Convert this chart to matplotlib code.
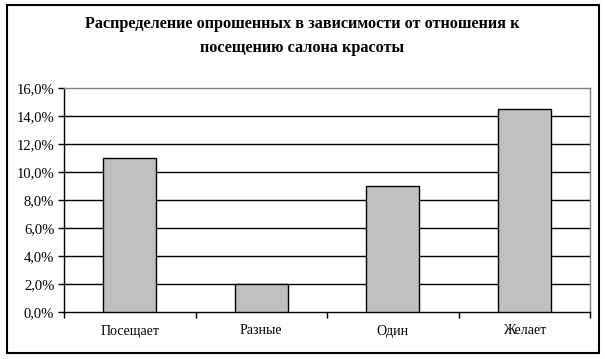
import matplotlib.pyplot as plt
import matplotlib.patches as patches
import numpy as np
from matplotlib.ticker import FuncFormatter

categories = ["Посещает", "Разные", "Один", "Желает"]
values = [11.0, 2.0, 9.0, 14.5]
yticks = [0, 2, 4, 6, 8, 10, 12, 14, 16]

plt.rcParams['font.family'] = ['Liberation Serif', 'DejaVu Serif']

W, H = 605, 359
fig = plt.figure(figsize=(W / 100, H / 100), dpi=100)

# outer frame (Excel style)
fig.patches.append(patches.Rectangle((7 / W, 1 - 353 / H), 592 / W, 348 / H,
                                     transform=fig.transFigure, facecolor="white",
                                     edgecolor="black", linewidth=1.5, zorder=1))

ax = fig.add_axes([64 / W, 1 - 312 / H, 526 / W, 224 / H])
ax.set_zorder(2)
x = np.arange(len(categories))
ax.bar(x, values, width=0.4, color="#c0c0c0", edgecolor="black", linewidth=1.0, zorder=3)

ax.set_xlim(-0.5, len(categories) - 0.5)
ax.set_ylim(0, 16)
ax.set_yticks(yticks)
ax.yaxis.set_major_formatter(FuncFormatter(lambda v, p: f"{v:.1f}%".replace(".", ",")))
for v in yticks[1:-1]:
    ax.axhline(v, color="black", linewidth=1.0, zorder=1)

ax.set_xticks(x)
ax.set_xticklabels(categories)
ax.set_xticks(np.arange(len(categories) + 1) - 0.5, minor=True)
ax.tick_params(axis="x", which="major", length=0, pad=9, labelsize=10)
ax.tick_params(axis="x", which="minor", length=4, width=1, direction="out")
ax.tick_params(axis="y", length=4, width=1, direction="out", pad=3, labelsize=10.5)

for s in ["top", "right"]:
    ax.spines[s].set_color("#808080")
for s in ["left", "bottom"]:
    ax.spines[s].set_color("black")
for s in ax.spines.values():
    s.set_linewidth(1.0)

fig.text(0.5, 1 - 36 / H, "Распределение опрошенных в зависимости от отношения к\nпосещению салона красоты",
         ha="center", va="center", fontsize=11.7, fontweight="bold", linespacing=1.65, zorder=3)

fig.savefig("out.png", dpi=100)
